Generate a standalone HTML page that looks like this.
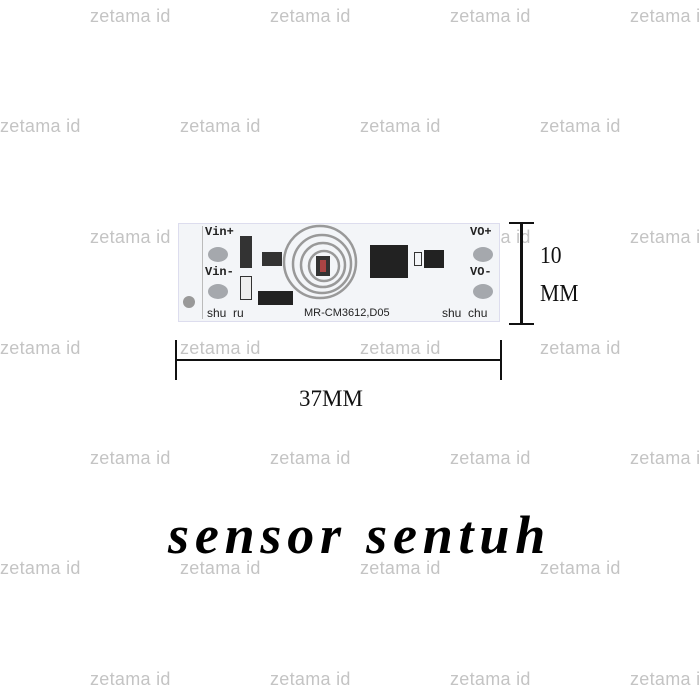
<!DOCTYPE html>
<html><head><meta charset="utf-8"><style>
body{margin:0;width:700px;height:700px;background:#fff;position:relative;overflow:hidden;font-family:"Liberation Sans",sans-serif}
.w{position:absolute;color:#c4c4c4;font-size:18px;line-height:18px;white-space:nowrap;letter-spacing:0.3px}
.a{position:absolute}
.t{position:absolute;font-family:"Liberation Sans",sans-serif;color:#222;font-size:12px;line-height:12px}
</style></head><body>
<div id="wm"></div>
<!-- PCB -->
<div class="a" style="left:178px;top:223px;width:322px;height:99px;background:#f3f5f8;border:1px solid #dde;box-sizing:border-box"></div>
<div class="a" style="left:202px;top:226px;width:1px;height:93px;background:#bbb"></div>
<div class="a" style="left:183px;top:296px;width:12px;height:12px;border-radius:50%;background:#999"></div>
<div class="a" style="left:208px;top:247px;width:20px;height:15px;border-radius:50%;background:#a5a8ad"></div>
<div class="a" style="left:208px;top:284px;width:20px;height:15px;border-radius:50%;background:#a5a8ad"></div>
<div class="a" style="left:473px;top:247px;width:20px;height:15px;border-radius:50%;background:#a5a8ad"></div>
<div class="a" style="left:473px;top:284px;width:20px;height:15px;border-radius:50%;background:#a5a8ad"></div>
<div class="t" style="left:205px;top:226px;font-family:'Liberation Mono',monospace;font-weight:bold">Vin+</div>
<div class="t" style="left:205px;top:266px;font-family:'Liberation Mono',monospace;font-weight:bold">Vin-</div>
<div class="t" style="left:470px;top:226px;font-family:'Liberation Mono',monospace;font-weight:bold">VO+</div>
<div class="t" style="left:470px;top:266px;font-family:'Liberation Mono',monospace;font-weight:bold">VO-</div>
<div class="t" style="left:207px;top:307px">shu &nbsp;ru</div>
<div class="t" style="left:442px;top:307px">shu &nbsp;chu</div>
<div class="t" style="left:304px;top:307px;font-size:11px">MR-CM3612,D05</div>
<div class="a" style="left:240px;top:236px;width:10px;height:30px;border:1px solid #333;background:#333"></div>
<div class="a" style="left:240px;top:276px;width:10px;height:22px;border:1px solid #333;background:#eee"></div>
<div class="a" style="left:258px;top:291px;width:35px;height:14px;background:#222"></div>
<div class="a" style="left:262px;top:252px;width:20px;height:14px;background:#333"></div>
<div class="a" style="left:370px;top:245px;width:38px;height:33px;background:#222"></div>
<div class="a" style="left:424px;top:250px;width:20px;height:18px;background:#222"></div>
<div class="a" style="left:414px;top:252px;width:6px;height:12px;border:1px solid #333"></div>
<svg class="a" style="left:280px;top:218px" width="80" height="90"><g fill="none" stroke="#999" stroke-width="2.5">
<circle cx="40" cy="44" r="36"/><circle cx="42" cy="46" r="29"/><circle cx="43" cy="47" r="22"/><circle cx="44" cy="48" r="15"/></g>
<rect x="36" y="38" width="14" height="20" fill="#333"/><rect x="40" y="42" width="6" height="12" fill="#aa4444"/></svg>
<!-- dims -->
<div class="a" style="left:520px;top:222px;width:3px;height:103px;background:#111"></div>
<div class="a" style="left:509px;top:222px;width:25px;height:2px;background:#111"></div>
<div class="a" style="left:509px;top:323px;width:25px;height:2px;background:#111"></div>
<div class="a" style="left:540px;top:237px;font-family:'Liberation Serif',serif;font-size:24px;color:#111;line-height:38px;transform:scaleX(0.9);transform-origin:left">10<br>MM</div>
<div class="a" style="left:175px;top:359px;width:327px;height:2px;background:#111"></div>
<div class="a" style="left:175px;top:340px;width:2px;height:40px;background:#111"></div>
<div class="a" style="left:500px;top:340px;width:2px;height:40px;background:#111"></div>
<div class="a" style="left:299px;top:386px;font-family:'Liberation Serif',serif;font-size:23px;color:#111">37MM</div>
<div class="a" style="left:168px;top:505px;font-family:'Liberation Serif',serif;font-style:italic;font-weight:bold;font-size:54px;letter-spacing:5.8px;color:#000;line-height:60px;white-space:nowrap">sensor sentuh</div>
<script>
var h='';var ys=[7,117,228,339,449,559,670];
for(var i=0;i<7;i++){var xs=i%2?[0,180,360,540]:[90,270,450,630];
for(var j=0;j<4;j++)h+='<div class="w" style="left:'+xs[j]+'px;top:'+ys[i]+'px">zetama id</div>';}
document.getElementById('wm').innerHTML=h;
</script>
</body></html>
